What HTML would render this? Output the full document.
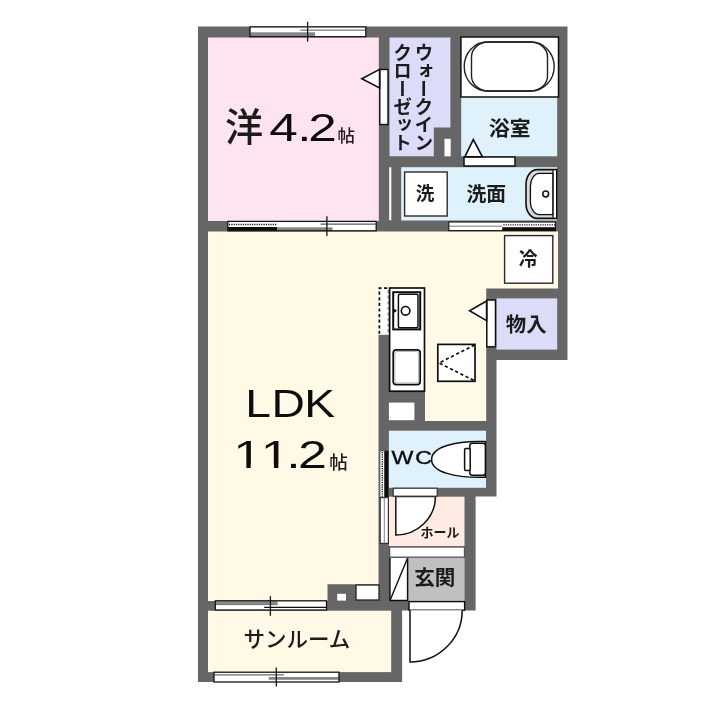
<!DOCTYPE html>
<html lang="ja">
<head>
<meta charset="utf-8">
<title>間取り図</title>
<style>
html,body{margin:0;padding:0;background:#fff;}
body{width:720px;height:720px;overflow:hidden;}
svg{display:block;}
.jp{font-family:"Liberation Sans","Noto Sans CJK JP",sans-serif;fill:#1a1a1a;font-weight:700;}
.la{font-family:"Liberation Sans",sans-serif;fill:#111;}
</style>
</head>
<body>
<svg width="720" height="720" viewBox="0 0 720 720">
<defs>
<filter id="soft" x="-2%" y="-2%" width="104%" height="104%"><feGaussianBlur stdDeviation="0.45"/></filter>
<filter id="soft2" x="-2%" y="-2%" width="104%" height="104%"><feGaussianBlur stdDeviation="0.35"/></filter>
</defs>
<rect width="720" height="720" fill="#ffffff"/>
<g id="plan" filter="url(#soft)">
<!-- walls (building footprint) -->
<path id="walls" fill="#666666" d="M198 26.6H567.5V360H496.5V496.6H475.6V610.4H402.1V682H198Z"/>

<!-- room fills -->
<rect id="r-you" x="208" y="37.5" width="170.8" height="183.5" fill="#fde4f0"/>
<path id="r-wic" fill="#dcdcf8" d="M389.5 37.5H450.4V127.5H433.8V156.3H389.5Z"/>
<rect id="r-bath" x="461.2" y="37.5" width="96" height="118.8" fill="#dff1fb"/>
<rect id="r-wash" x="401.2" y="167.2" width="155.8" height="53.3" fill="#dff1fb"/>
<path id="r-ldk" fill="#fff9e6" d="M208 231.5H558V288.5H486.2V421H425V392H389V334.5H378.5V584.2H327.5V601H208Z"/>
<rect id="r-mono" x="496.4" y="298.4" width="60.8" height="51.2" fill="#dcdcf8"/>
<rect id="r-wc" x="388.9" y="430.7" width="97.1" height="57.1" fill="#dff1fb"/>
<rect id="r-hall" x="388.9" y="496.7" width="75.6" height="49.6" fill="#fdebe4"/>
<rect id="r-genkan" x="407.8" y="556.7" width="56.8" height="44.6" fill="#c0c0c0"/>
<rect id="r-sun" x="208" y="610.7" width="183.2" height="61.4" fill="#fff9e6"/>

<!-- pipe spaces / white boxes in walls -->
<rect x="444.5" y="138.8" width="6.2" height="17.5" fill="#fff"/>
<rect x="389.2" y="167.3" width="2.1" height="53" fill="#fff"/>
<rect x="388.9" y="402.6" width="25.5" height="17.6" fill="#fff"/>
<rect x="337.2" y="593.8" width="8.8" height="6.8" fill="#fff"/>
<rect x="356" y="585" width="23" height="15" fill="#fff" stroke="#222" stroke-width="1.3"/>

<!-- ===== fixtures ===== -->
<g id="fixtures" fill="none" stroke="#222" stroke-width="1.1">
<!-- bathtub -->
<rect x="460.9" y="37" width="97.6" height="60" fill="#fff" stroke="#111" stroke-width="1.5"/>
<path d="M487 42H531A23.2 24.5 0 0 1 531 91H487A22.8 24.5 0 0 1 487 42Z" fill="#fff" stroke-width="1.4"/>
<rect x="471.5" y="42" width="76" height="49" rx="17" ry="15" stroke-width="1.4"/>
<!-- bath door -->
<rect x="464" y="157" width="51" height="9" fill="#fff" stroke="#111" stroke-width="1.5"/>
<path d="M464.8 156.8L473.3 139.6L482.4 156.8Z" fill="#fff" stroke="#111" stroke-width="1.6"/>
<!-- WIC door -->
<rect x="379.8" y="69.5" width="8.2" height="55" fill="#fff" stroke="#111" stroke-width="1.4"/>
<path d="M379.6 69.4L361.8 78.8L379.6 88Z" fill="#fff" stroke="#111" stroke-width="1.6"/>
<!-- monoire door -->
<rect x="486.8" y="300" width="8.7" height="46.8" fill="#fff" stroke="#111" stroke-width="1.5"/>
<path d="M486.6 301L469.6 310.7L486.6 320.6Z" fill="#fff" stroke="#111" stroke-width="1.6"/>
<!-- washing machine box -->
<rect x="404.6" y="172" width="42.6" height="44" fill="#fff" stroke="#2a2a2a" stroke-width="1.4"/>
<!-- fridge box -->
<rect x="504.6" y="235.6" width="48.2" height="47.6" fill="#fff" stroke="#2a2a2a" stroke-width="1.4"/>
<!-- wash basin -->
<path d="M556.6 169.6H537A11 15 0 0 0 526 184.6V203.4A11 15 0 0 0 537 218.4H556.6Z" fill="#dadada" stroke="#111" stroke-width="1.6"/>
<path d="M553 173.4H539.5A9 12.5 0 0 0 530.4 185.9V202A9 12.5 0 0 0 539.5 214.6H553Z" fill="#fff" stroke="#111" stroke-width="1.3"/>
<rect x="553.6" y="170.5" width="2.4" height="47" fill="#fff" stroke="none"/>
<path d="M553 169.6V218.4" stroke="#111" stroke-width="1.2"/>
<circle cx="545.7" cy="194" r="2.9" fill="#fff" stroke="#111" stroke-width="1.5"/>
<!-- kitchen -->
<rect x="378.9" y="287.8" width="10.3" height="46.6" fill="#fff" stroke="none"/>
<path d="M379.4 334V288.2H389" stroke="#111" stroke-dasharray="3.2 2.4" stroke-width="1.7"/>
<path d="M388.2 290V334" stroke="#555" stroke-dasharray="3.2 2.4" stroke-width="0.9"/>
<path d="M379 334.3H389" stroke="#fff" stroke-dasharray="2 2" stroke-width="1"/>
<rect x="389.6" y="288" width="34.9" height="103.2" fill="#fff" stroke="#111" stroke-width="1.7"/>
<rect x="393.2" y="292.2" width="27" height="37.2" fill="#fff" stroke="#111" stroke-width="2"/>
<rect x="398.4" y="294.2" width="19.6" height="33.6" rx="1.5" fill="#fff" stroke="#111" stroke-width="1.5"/>
<circle cx="405.6" cy="310.8" r="4.3" fill="#fff" stroke="#111" stroke-width="1.6"/>
<path d="M393.8 308.6L397 310.8L393.8 313Z" fill="#111" stroke="none"/>
<rect x="393.2" y="349.8" width="27" height="34.8" rx="3.2" fill="#fff" stroke="#111" stroke-width="1.7"/>
<rect x="394.9" y="351.5" width="23.6" height="31.4" rx="2.2" stroke="#999" stroke-width="0.7"/>
<!-- floor hatch -->
<rect x="437.8" y="344.4" width="37.2" height="36.9" fill="#fff" stroke="#111" stroke-width="1.7"/>
<path d="M474.6 345L439 363L474.6 380.8" stroke="#111" stroke-dasharray="3.2 2.6" stroke-width="1.7"/>
<!-- toilet -->
<path d="M485.4 441.6C455 440.5 431.6 447 431.6 459.4C431.6 472 455 478.2 485.4 477.2Z" fill="#fff" stroke="#111" stroke-width="1.5"/>
<rect x="469.8" y="443.3" width="15.6" height="32" rx="2.5" fill="#fff" stroke="#111" stroke-width="1.5"/>
<rect x="464.6" y="448.6" width="5.6" height="21.8" rx="1.2" fill="#fff" stroke="#111" stroke-width="1.5"/>
<!-- WC door -->
<path d="M395.8 496.4V535A39.6 38.6 0 0 0 435.4 496.4Z" fill="#fff" stroke="#111" stroke-width="1.5"/>
<rect x="393.2" y="488.2" width="44" height="8" fill="#fff" stroke="#333" stroke-width="1.2"/>
<!-- entrance step, shoe box -->
<rect x="389.6" y="547" width="74.9" height="10.2" fill="#fff" stroke="#555" stroke-width="1.3"/>
<rect x="389.6" y="558" width="18" height="42.8" fill="#fff" stroke="none"/>
<path d="M389.9 558V600.6H407.6V558" stroke="#111" stroke-width="1.5"/>
<path d="M390 600.4L407.4 558.4" stroke="#111" stroke-width="1.4"/>
<!-- entrance door -->
<rect x="409" y="601.6" width="55.6" height="8.6" fill="#fff" stroke="#111" stroke-width="1.4"/>
<path d="M410 610.2V662A52.2 51.8 0 0 0 462.2 610.2" fill="#fff" stroke="#111" stroke-width="1.5"/>
</g>
</g>

<!-- ===== windows & sliding doors ===== -->
<g id="openings" filter="url(#soft2)" fill="none" stroke="#151515" stroke-width="1">
<!-- top window -->
<rect x="250" y="26.9" width="115.8" height="9.8" fill="#fff" stroke="none"/>
<rect x="250.4" y="32.3" width="64.6" height="4.2" fill="#858585" stroke="none"/>
<path d="M300.4 30.1H365.4" stroke="#555" stroke-width="1"/>
<rect x="250" y="26.9" width="115.8" height="9.8" stroke-width="1.3"/>
<path d="M307.6 21.8V41.6" stroke-width="1.3"/>
<!-- you room bottom sliding door -->
<rect x="227.8" y="221.4" width="148.4" height="9.4" fill="#fff" stroke="none"/>
<path d="M229 224.5H276.6" stroke="#111" stroke-width="1.4" stroke-dasharray="1.2 1.1"/>
<rect x="227.8" y="227" width="49.2" height="3.9" fill="#111" stroke="none"/>
<rect x="277" y="227.3" width="55.5" height="3.4" fill="#858585" stroke="none"/>
<path d="M320.6 224.1H375.8" stroke="#333" stroke-width="1"/>
<rect x="227.8" y="221.4" width="148.4" height="9.4" stroke-width="1.3"/>
<path d="M326.9 216.2V236" stroke-width="1.3"/>
<!-- washroom sliding door -->
<rect x="448.8" y="222" width="106.6" height="8.6" fill="#fff" stroke-width="1.1"/>
<path d="M449 226.2H502" stroke="#666" stroke-width="0.9"/>
<path d="M503.4 224.9H555" stroke="#111" stroke-width="1.4" stroke-dasharray="1.2 1.1"/>
<rect x="502.2" y="227.2" width="53.6" height="3.8" fill="#111" stroke="none"/>
<!-- WC sliding door -->
<rect x="380" y="451" width="4.4" height="46" fill="#fff" stroke="#444" stroke-width="0.6"/><path d="M382.3 452V496.5" stroke="#111" stroke-width="1.4" stroke-dasharray="1.2 1.1"/>
<rect x="384.6" y="450.8" width="3.9" height="46.2" fill="#111" stroke="none"/>
<rect x="380.2" y="497.6" width="8.2" height="45.8" fill="#fff" stroke="#333" stroke-width="1.2"/>
<path d="M384.3 497.6V543.4" stroke="#666" stroke-width="0.8"/>
<!-- LDK / sunroom window -->
<rect x="215.3" y="600.8" width="111.2" height="9.2" fill="#fff" stroke="none"/>
<rect x="215.6" y="601.2" width="62" height="3.2" fill="#8a8a8a" stroke="none"/>
<path d="M216 604.6H277.5" stroke="#555" stroke-width="0.8"/>
<path d="M264.2 607.4H326" stroke="#111" stroke-width="1.1"/>
<rect x="215.3" y="600.8" width="111.2" height="9.2" stroke-width="1.3"/>
<path d="M270.4 596.2V615.8" stroke-width="1.3"/>
<!-- sunroom bottom window -->
<rect x="214" y="672.2" width="125" height="9.8" fill="#fff" stroke="none"/>
<path d="M214.5 674.9H283.8" stroke="#444" stroke-width="1"/>
<rect x="268.8" y="677" width="70" height="2.8" fill="#858585" stroke="none"/>
<rect x="214" y="672.2" width="125" height="9.8" stroke-width="1.3"/>
<path d="M276.3 667.4V686.6" stroke-width="1.3"/>
</g>

<!-- ===== labels ===== -->
<g id="labels" stroke="none" filter="url(#soft2)">
<text class="jp" x="225" y="141.4" font-size="38.2" style="font-weight:500">洋</text>
<text class="la" transform="scale(1.35,1)" x="199.5 220.15 228.4" y="140.8" font-size="38">4.2</text>
<text class="jp" x="337.4" y="142" font-size="17.5" style="font-weight:500">帖</text>

<text class="la" transform="scale(1.2,1)" x="204.4 226.2 253.5" y="416.8" font-size="38.5">LDK</text>
<text class="la" transform="scale(1.35,1)" x="172.7 193.2 212.1 220.8" y="468" font-size="38.5">11.2</text>
<path fill="#fff9e6" d="M235.5 464.6H246.3V469H235.5ZM250.7 464.6H261V469H250.7ZM263.2 464.6H274V469H263.2ZM278.4 464.6H288.6V469H278.4Z"/>
<text class="jp" x="329.2" y="469" font-size="18.6" style="font-weight:500">帖</text>

<text class="jp" x="489" y="135.6" font-size="20.8">浴室</text>
<text class="jp" x="415.8" y="200" font-size="18.6">洗</text>
<text class="jp" x="466.4" y="200.6" font-size="19.8">洗面</text>
<text class="jp" x="518.8" y="265.9" font-size="18.8">冷</text>
<text class="jp" x="505.8" y="331.6" font-size="20.4">物入</text>
<text class="la" transform="scale(1.32,1)" x="296.6 314.6" y="464.5" font-size="17.6" style="stroke:#111;stroke-width:0.35px">WC</text>
<text class="jp" x="420.6" y="536.8" font-size="13">ホール</text>
<text class="jp" x="414.2" y="585.4" font-size="20.6">玄関</text>
<text class="jp" x="243.4" y="646.6" font-size="21.5" style="font-weight:500">サンルーム</text>
<text class="jp" font-size="18.8" style="writing-mode:vertical-rl;font-weight:700;letter-spacing:-0.65px" x="421.8" y="43">ウォークイン</text>
<text class="jp" font-size="18.8" style="writing-mode:vertical-rl;font-weight:700;letter-spacing:-0.65px" x="400.6" y="43">クローゼット</text>
</g>
</svg>
</body>
</html>
